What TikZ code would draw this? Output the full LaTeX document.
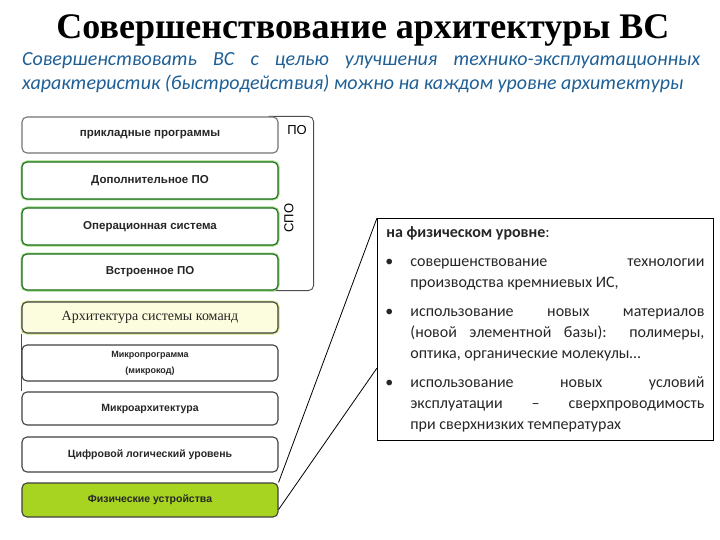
\documentclass[tikz,border=0pt]{standalone}
\usepackage{fontspec}
\setmainfont{Liberation Serif}
\newfontfamily\calibri{Carlito}
\newfontfamily\arial{Liberation Sans}
\usetikzlibrary{backgrounds}
\definecolor{sinij}{RGB}{30,95,150}
\definecolor{zelenyj}{RGB}{25,110,25}
\definecolor{svetlozelenyj}{RGB}{160,215,130}
\definecolor{zheltyj}{RGB}{252,252,222}
\definecolor{salatovyj}{RGB}{166,212,32}
\newcommand{\punkt}[1]{\par\hangindent=24pt\hangafter=1\noindent\makebox[24pt][l]{\hspace{-1pt}\textbullet}#1\par}
\begin{document}
\begin{tikzpicture}[
        x=1pt, y=-1pt,
        font=\arial,
        uroven/.style={
            draw=black!75,
            line width=1.1pt,
            rounded corners=5pt,
            fill=white,
            minimum width=256pt,
            inner sep=0pt,
            align=center,
            text=black!85,
            font=\arial\bfseries\fontsize{10.5}{12}\selectfont
        },
        spo/.style={
            uroven,
            draw=zelenyj,
            font=\arial\bfseries\fontsize{11.5}{13}\selectfont,
            preaction={draw=svetlozelenyj, line width=3pt}
        },
        gruppa/.style={
            draw=black!70,
            line width=0.9pt,
            rounded corners=5pt
        },
        vynoska/.style={
            draw=black,
            line width=0.8pt,
            anchor=north west,
            text width=318pt,
            minimum width=336pt,
            minimum height=222pt,
            inner xsep=6pt,
            align=justify,
            text=black!85,
            font=\calibri\fontsize{16}{21}\selectfont,
            execute at begin node={\setlength{\parskip}{8pt}}
        },
        vynos/.style={
            draw=black,
            line width=0.8pt
        }
    ]
    \useasboundingbox (0,0) rectangle (720,540);
    % Заголовок
    \node[font=\rmfamily\bfseries\fontsize{36}{40}\selectfont] (titel) at (363,30)
        {Совершенствование архитектуры ВС};
    \node[anchor=north west, text width=678pt, inner sep=0pt, align=justify,
          text=sinij, font=\calibri\itshape\fontsize{20}{24}\selectfont] (podzag) at (22,52)
        {Совершенствовать ВС с целью улучшения технико-эксплуатационных\linebreak
         характеристик (быстродействия) можно на каждом уровне архитектуры};
    % Уровни
    \node[uroven, draw=black!55, minimum height=36pt,
          font=\arial\bfseries\fontsize{11.5}{13}\selectfont] (ur1) at (150,135) {прикладные программы};
    \node[spo, minimum height=37pt] (ur2) at (150,180.5) {Дополнительное ПО};
    \node[spo, minimum height=37pt] (ur3) at (150,226.5) {Операционная система};
    \node[spo, minimum height=36pt] (ur4) at (150,272) {Встроенное ПО};
    \node[uroven, fill=zheltyj, minimum height=31pt,
          preaction={draw=salatovyj!60, line width=3pt},
          font=\rmfamily\fontsize{14}{16}\selectfont] (ur5) at (150,317.5)
        {Архитектура системы команд};
    \node[uroven, minimum height=36pt,
          font=\arial\bfseries\fontsize{9}{16}\selectfont] (ur6) at (150,363)
        {Микропрограмма\\(микрокод)};
    \node[uroven, minimum height=33pt] (ur7) at (150,408.5) {Микроархитектура};
    \node[uroven, minimum height=35pt] (ur8) at (150,454.5) {Цифровой логический уровень};
    \node[uroven, fill=salatovyj, minimum height=34pt] (ur9) at (150,500) {Физические устройства};
    \draw[black!70, line width=0.8pt] (ur5.south west) -- (ur7.north west);
    % ПО и СПО
    \begin{scope}[on background layer]
        \draw[gruppa] ([xshift=-10pt]ur1.north east) -- ++(45,0) |- ([xshift=-10pt]ur4.south east);
    \end{scope}
    \node[font=\arial\fontsize{13}{15}\selectfont] (po) at (297,130) {ПО};
    \node[rotate=90, font=\arial\fontsize{13}{15}\selectfont] (spo) at (289,218) {СПО};
    % Выноска
    \node[vynoska] (vyn) at (377,218)
        {\noindent{\bfseries на физическом уровне}:
         \punkt{совершенствование технологии\linebreak производства кремниевых ИС,}
         \punkt{использование новых материалов\linebreak (новой элементной базы): полимеры,\linebreak оптика, органические молекулы…}
         \punkt{использование новых условий\linebreak эксплуатации – сверхпроводимость\linebreak при сверхнизких температурах}};
    \coordinate (vyn-niz) at ([yshift=-150pt]vyn.north west);
    \draw[vynos] (ur9.north east) -- (vyn.north west);
    \draw[vynos] ([yshift=8pt]ur9.south east) -- (vyn-niz);
\end{tikzpicture}
\end{document}
